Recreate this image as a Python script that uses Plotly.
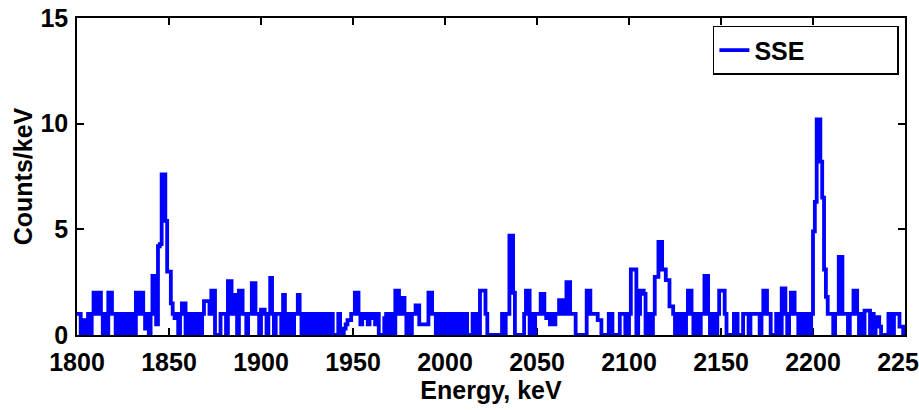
import plotly.graph_objects as go

# Bin start energies (keV), 1 keV bins from 1800 to 2249
energy_start = 1800
counts = [
    # 1800-1849
    1, 1, 0, 0.7, 0.7, 0, 1, 0, 1, 2,
    2, 1, 2, 1, 0, 1, 0, 2, 2, 1,
    1, 0, 1, 1, 0, 1, 0, 1, 1, 0,
    1, 0, 2, 1, 2, 2, 1, 0.3, 1, 0,
    1, 2.8, 2.8, 0.5, 4.2, 4.3, 7.6, 7.6, 5.4, 3,
    # 1850-1899
    3, 1.5, 1, 0.8, 1, 0, 1, 1.5, 1.5, 0,
    1, 0, 1, 1, 0, 1, 1, 0, 1, 1.6,
    1.6, 1.6, 1, 2.1, 2.1, 0, 0, 0, 1, 1,
    1, 0, 2.55, 2.55, 1, 1.9, 1, 0, 2.1, 2.1,
    1, 1, 0, 1, 1, 2.45, 2.45, 1, 1, 0,
    # 1900-1949
    1.2, 1.2, 1, 0, 1, 2.7, 1, 0, 1, 1,
    1, 0, 1.9, 1, 0, 1, 1, 0, 1, 1,
    1.9, 1, 0, 1, 1, 0, 1, 1, 0, 1,
    1, 0, 1, 1, 0, 1, 0, 0, 1, 0,
    0, 0, 1, 0, 0, 0.3, 0.5, 0.7, 0.7, 1,
    # 1950-1999
    1, 2, 2, 1, 0.5, 1, 0.8, 1, 0.5, 1,
    1, 0.8, 0.5, 1, 0, 0, 0, 0.8, 1, 0,
    1, 1, 0, 2.1, 2.1, 1, 1.75, 1.75, 1, 0,
    1, 0, 1, 1, 1.4, 1.4, 0.5, 0.5, 0.5, 0.5,
    0.5, 2, 2, 1, 1, 0, 1, 1, 0, 1,
    # 2000-2049
    1, 0, 1, 0, 1, 1, 0, 0, 1, 0,
    1, 1, 0, 0, 0, 1, 0, 1, 0, 2.1,
    2.1, 2.1, 1, 0, 0, 0, 0, 0, 0, 0,
    0, 1, 0, 1, 1, 4.7, 4.7, 2, 0, 0,
    0, 0, 0, 1, 2.1, 2.1, 0, 1, 0, 1,
    # 2050-2099
    1, 1, 1.95, 1.95, 1, 0.8, 1, 0.5, 1, 0.5,
    1, 1, 1.65, 1.65, 1, 1, 2.5, 2.5, 1, 1,
    1, 0, 0, 0, 0, 0, 0, 2.1, 2.1, 1,
    1, 1, 1, 0.7, 0.7, 0, 0, 0, 0, 1,
    1, 0, 0, 0, 0, 1, 1, 1, 0, 0,
    # 2100-2149
    1, 3.1, 3.1, 3.1, 0, 1, 2.1, 2.1, 1.95, 0,
    0, 1, 0, 1, 2.75, 2.75, 4.4, 4.4, 3.1, 3.1,
    2.6, 2.6, 1.35, 1.35, 1, 0, 1, 0, 1, 1,
    0, 1, 2.1, 2.1, 1, 0, 1, 1, 0, 1,
    1, 2.8, 2.8, 1, 0, 1, 1, 0, 1, 2.1,
    # 2150-2199
    2.1, 2.1, 1, 0, 0, 0, 0, 1, 1, 0,
    0, 0, 1, 1, 1, 0, 1, 1, 1, 1,
    1, 0, 1, 2.1, 2.1, 1, 1, 0, 0, 0,
    1, 1, 0, 2.2, 2.2, 1, 0, 1, 2, 2,
    1, 1, 0, 0, 1, 0, 1, 1, 0, 1,
    # 2200-2249
    4.9, 6.3, 10.2, 10.2, 8.2, 6.5, 3.1, 1.8, 1, 1,
    1, 0, 1, 1, 3.7, 3.7, 1, 1, 1, 0,
    1, 1, 2.1, 2.1, 1, 0, 1, 0, 1.15, 1.15,
    1.15, 0, 1, 0, 0.85, 0.85, 0.4, 0, 0, 0,
    0, 1, 1, 0, 1, 1, 1, 0.4, 0.4, 0,
]
energies = [energy_start + i for i in range(len(counts))]
# close last step at the final bin edge
x_vals = energies + [energies[-1] + 1]
y_vals = counts + [counts[-1]]

x_ticks = [1800, 1850, 1900, 1950, 2000, 2050, 2100, 2150, 2200, 2250]
y_ticks = [0, 5, 10, 15]

FONT = "Liberation Sans, Arial, sans-serif"

fig = go.Figure()
fig.add_trace(go.Scatter(
    x=x_vals, y=y_vals, mode="lines", name="SSE",
    line=dict(color="#0000ff", width=3.8, shape="hv"),
))

axis_common = dict(
    showline=True, linecolor="black", linewidth=1.5, mirror="ticks",
    ticks="inside", ticklen=7, tickwidth=1.5, tickcolor="black",
    showgrid=False, zeroline=False, layer="below traces",
    ticklabeloverflow="allow", automargin=False,
    tickfont=dict(family=FONT, size=25, color="black", weight="bold"),
)

fig.update_layout(
    width=919, height=410,
    margin=dict(l=77, r=14, t=18, b=75),
    paper_bgcolor="white", plot_bgcolor="white",
    font=dict(family=FONT, color="black", weight="bold"),
    xaxis=dict(range=[1800, 2250], tickvals=x_ticks, ticklabelstandoff=4,
               title=dict(text="Energy, keV", standoff=2,
                          font=dict(family=FONT, size=25, weight="bold")),
               **axis_common),
    yaxis=dict(range=[0, 15], tickvals=y_ticks, ticklabelstandoff=2,
               title=dict(text="Counts/keV", standoff=1,
                          font=dict(family=FONT, size=25, weight="bold")),
               **axis_common),
    showlegend=True,
    legend=dict(x=0.768, y=0.975, xanchor="left", yanchor="top",
                orientation="h", tracegroupgap=0,
                bgcolor="white", bordercolor="black", borderwidth=1.5,
                font=dict(family=FONT, size=25, weight="bold"),
                entrywidth=138, entrywidthmode="pixels"),
)

fig.write_html("out.html")
